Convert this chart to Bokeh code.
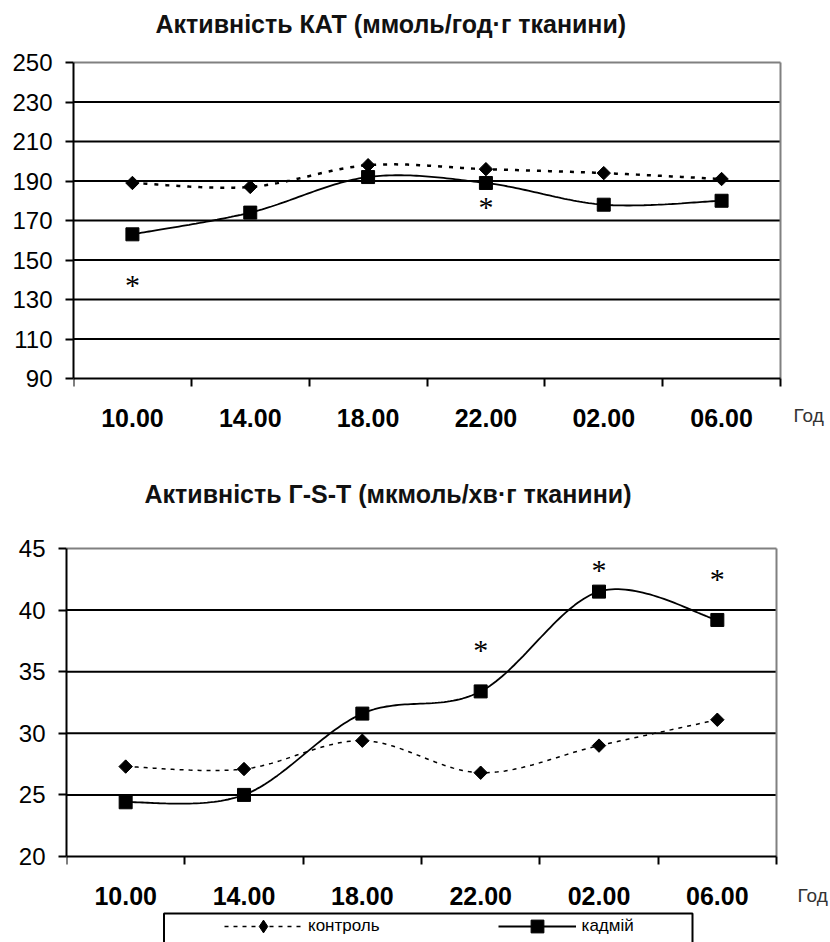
import numpy as np
from bokeh.plotting import figure
from bokeh.models import Range1d, FixedTicker, Legend, LegendItem, BoxAnnotation
from bokeh.embed import file_html
from bokeh.resources import INLINE
from bokeh.core.properties import value

# ---------------- data ----------------
times = ["10.00", "14.00", "18.00", "22.00", "02.00", "06.00"]

kat_title = "Активність КАТ (ммоль/год·г тканини)"
kat_control = [189, 187, 198, 196, 194, 191]
kat_cadmium = [163, 174, 192, 189, 178, 180]
kat_ticks = [90, 110, 130, 150, 170, 190, 210, 230, 250]
kat_star_idx = [0, 3]
kat_star_y = [140, 179.5]

gst_title = "Активність Г-S-T (мкмоль/хв·г тканини)"
gst_control = [27.3, 27.1, 29.4, 26.8, 29.0, 31.1]
gst_cadmium = [24.4, 25.0, 31.6, 33.4, 41.5, 39.2]
gst_ticks = [20, 25, 30, 35, 40, 45]
gst_star_idx = [3, 4, 5]
gst_star_y = [37.2, 43.7, 43.0]

x_unit_label = "Год"
series_names = ["контроль", "кадмій"]

FONT = "Liberation Sans"
W = 830


def smooth(xs, ys, n=40):
    """Excel-like smoothed line: cubic Bezier segments (Catmull-Rom control points)."""
    P = np.column_stack([np.asarray(xs, float), np.asarray(ys, float)])
    Pp = np.vstack([P[0], P, P[-1]])
    t = np.linspace(0.0, 1.0, n)[:, None]
    out = []
    for i in range(len(P) - 1):
        p0, p1, p2, p3 = Pp[i], Pp[i + 1], Pp[i + 2], Pp[i + 3]
        c1 = p1 + (p2 - p0) / 6.0
        c2 = p2 - (p3 - p1) / 6.0
        seg = (1 - t) ** 3 * p1 + 3 * (1 - t) ** 2 * t * c1 + 3 * (1 - t) * t ** 2 * c2 + t ** 3 * p2
        out.append(seg if i == 0 else seg[1:])
    arr = np.vstack(out)
    return arr[:, 0], arr[:, 1]


def make_chart(title, control, cadmium, ticks, star_idx, star_y, height,
               px_left, px_right, px_top, px_bottom, title_dx, title_cy,
               ctrl_dash, ctrl_width, god_dx, god_dy):
    """px_* : pixel box of the plotting area (axis to grey border) inside the figure."""
    n = len(times)
    xc = [i + 0.5 for i in range(n)]
    ymin, ymax = ticks[0], ticks[-1]
    # the frame spans the whole figure to the right of the y axis; the ranges are
    # chosen so that the data area lands on the pixel box given above
    sy = (px_bottom - px_top) / (ymax - ymin)
    sx = (px_right - px_left) / n
    y_range = Range1d(ymin - (height - px_bottom) / sy, ymax + px_top / sy)
    x_range = Range1d(0, n + (W - px_right) / sx)

    p = figure(width=W, height=height, output_backend="svg", toolbar_location=None,
               x_range=x_range, y_range=y_range)
    p.min_border_left = px_left
    p.min_border_right = 0
    p.min_border_top = 0
    p.min_border_bottom = 0
    p.outline_line_color = None
    p.background_fill_color = "white"
    p.border_fill_color = "white"
    p.xgrid.visible = False
    p.ygrid.visible = False

    # x axis pinned at the bottom of the value scale
    p.xaxis.fixed_location = ymin
    p.xaxis.bounds = (0, n)
    p.xaxis.ticker = FixedTicker(ticks=xc, minor_ticks=list(range(n + 1)))
    p.xaxis.major_label_overrides = {xv: lab for xv, lab in zip(xc, times)}
    p.xaxis.major_tick_out = 0
    p.xaxis.major_tick_in = 0
    p.xaxis.minor_tick_out = 8
    p.xaxis.minor_tick_in = 0
    p.xaxis.minor_tick_line_width = 2
    p.xaxis.minor_tick_line_color = "black"
    p.xaxis.axis_line_width = 2
    p.xaxis.axis_line_color = "black"
    p.xaxis.major_label_text_font = FONT
    p.xaxis.major_label_text_font_size = "25px"
    p.xaxis.major_label_text_font_style = "bold"
    p.xaxis.major_label_text_color = "black"
    p.xaxis.major_label_standoff = 22

    p.yaxis.bounds = (ymin, ymax)
    p.yaxis.ticker = FixedTicker(ticks=ticks, minor_ticks=[])
    p.yaxis.major_tick_out = 8
    p.yaxis.major_tick_in = 0
    p.yaxis.major_tick_line_width = 2
    p.yaxis.axis_line_width = 2
    p.yaxis.axis_line_color = "black"
    p.yaxis.major_label_text_font = FONT
    p.yaxis.major_label_text_font_size = "24px"
    p.yaxis.major_label_text_color = "black"
    p.yaxis.major_label_standoff = 13

    # horizontal grid lines (black) limited to the plotting area, grey border top/right
    inner = ticks[1:-1]
    p.segment(x0=[0] * len(inner), x1=[n] * len(inner), y0=inner, y1=inner,
              line_color="black", line_width=2)
    p.segment(x0=[0, n], x1=[n, n], y0=[ymax, ymin], y1=[ymax, ymax],
              line_color="#808080", line_width=2)

    xs, ys = smooth(xc, control)
    l_ctrl = p.line(xs, ys, line_color="black", line_width=ctrl_width, line_dash=ctrl_dash)
    # diamond marker (the narrow one is used by the legend, covered by the square one)
    s_ctrl_leg = p.scatter(xc, control, marker="diamond", size=12,
                           fill_color="black", line_color="black")
    p.scatter(xc, control, marker="square", angle=np.pi / 4, size=9.5,
              fill_color="black", line_color="black")
    xs2, ys2 = smooth(xc, cadmium)
    l_cad = p.line(xs2, ys2, line_color="black", line_width=1.8)
    s_cad = p.scatter(xc, cadmium, marker="square", size=13,
                      fill_color="black", line_color="black")

    p.text([xc[i] for i in star_idx], star_y, text=["*"] * len(star_idx),
           text_font=value("Liberation Serif"), text_font_size="30px",
           text_align="center", text_baseline="middle", text_color="black", y_offset=5)

    # chart title
    p.text(x=[0], y=[ymax], text=[title], x_offset=title_dx, y_offset=title_cy - px_top,
           text_font=value(FONT), text_font_size="25px", text_font_style="bold",
           text_color="#111111", text_align="left", text_baseline="middle")
    # unit of the category axis
    p.text(x=[n], y=[ymin], text=[x_unit_label], x_offset=god_dx, y_offset=god_dy,
           text_font=value(FONT), text_font_size="19px", text_color="#333333",
           text_align="left", text_baseline="middle")
    return p, (l_ctrl, s_ctrl_leg, l_cad, s_cad)


p1, _ = make_chart(kat_title, kat_control, kat_cadmium, kat_ticks, kat_star_idx, kat_star_y,
                   height=450, px_left=73, px_right=780, px_top=62, px_bottom=378,
                   title_dx=82, title_cy=23, ctrl_dash="4 7", ctrl_width=2.5,
                   god_dx=13, god_dy=37)

p2, (l_ctrl, s_ctrl, l_cad, s_cad) = make_chart(
    gst_title, gst_control, gst_cadmium, gst_ticks, gst_star_idx, gst_star_y,
    height=492, px_left=66, px_right=776, px_top=98, px_bottom=406,
    title_dx=78, title_cy=43, ctrl_dash="4 5", ctrl_width=1.5,
    god_dx=21, god_dy=39)

# legend frame, running off the bottom edge as in the original
p2.add_layout(BoxAnnotation(left=163.5, right=692, top=463, bottom=520,
                            left_units="canvas", right_units="canvas",
                            top_units="canvas", bottom_units="canvas",
                            fill_color=None, fill_alpha=0, line_color="black",
                            line_alpha=1.0, line_width=2))

legend = Legend(items=[LegendItem(label=series_names[0], renderers=[l_ctrl, s_ctrl]),
                       LegendItem(label=series_names[1], renderers=[l_cad, s_cad])],
                orientation="horizontal", location=(158, 0),
                glyph_width=78, glyph_height=32, label_standoff=6, spacing=118,
                padding=0, margin=0, border_line_color=None, background_fill_alpha=0,
                label_text_font=FONT, label_text_font_size="17px", label_text_color="black")
p2.add_layout(legend)

# two independent roots, stacked one under the other
open("out.html", "w").write(file_html([p1, p2], INLINE))
